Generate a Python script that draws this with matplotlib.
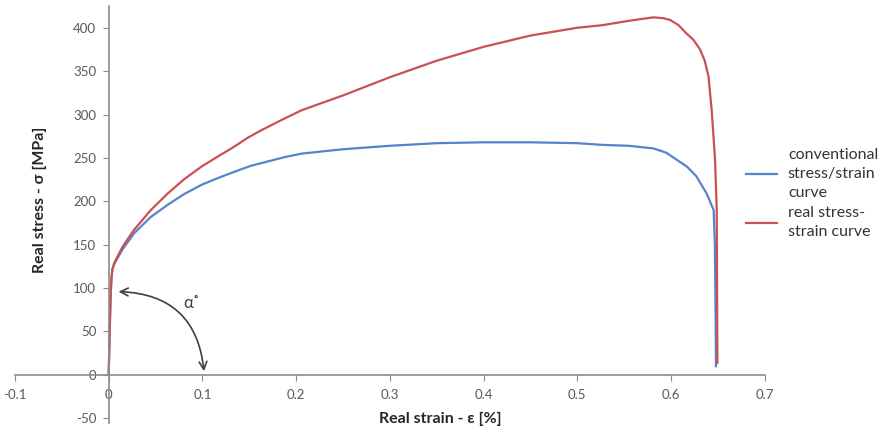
#!/usr/bin/env python3

import matplotlib
matplotlib.use("Agg")
import matplotlib.pyplot as plt

plt.rcParams['font.family'] = ['Lato', 'DejaVu Sans']
plt.rcParams['axes.unicode_minus'] = False

# strain [-], stress [MPa]
conv_strain = [0, 0.001, 0.002, 0.003, 0.004, 0.006, 0.015, 0.027, 0.045, 0.063, 0.08, 0.099,
               0.117, 0.134, 0.152, 0.17, 0.188, 0.206, 0.25, 0.3, 0.35, 0.4, 0.45, 0.5, 0.527,
               0.555, 0.581, 0.595, 0.606, 0.617, 0.627, 0.638, 0.6455, 0.6468, 0.6475, 0.648]
conv_stress = [0, 45, 90, 112, 122, 128, 145, 163, 182, 196, 208, 219,
               227, 234, 241, 246, 251, 255, 260, 264, 267, 268, 268, 267, 265,
               264, 261, 256, 248, 240, 229, 209, 190, 150, 80, 10]

real_strain = [0, 0.001, 0.002, 0.003, 0.004, 0.006, 0.015, 0.027, 0.045, 0.063, 0.08, 0.099,
               0.117, 0.134, 0.148, 0.163, 0.185, 0.206, 0.25, 0.3, 0.35, 0.4, 0.45, 0.5, 0.527,
               0.555, 0.581, 0.592, 0.599, 0.608, 0.616, 0.624, 0.631, 0.636, 0.64, 0.6434,
               0.647, 0.6488, 0.6495]
real_stress = [0, 45, 90, 112, 122, 129, 148, 167, 190, 209, 225, 240,
               252, 263, 273, 282, 294, 305, 322, 343, 362, 378, 391, 400, 403,
               408, 412, 411, 409, 403, 394, 386, 375, 362, 344, 305,
               248, 190, 14]

fig = plt.figure(figsize=(8.8, 4.33), dpi=100)
ax = fig.add_axes([0.017, 0.024, 0.852, 0.962])

ax.plot(conv_strain, conv_stress, color="#5584CA", lw=1.6,
        label="conventional\nstress/strain\ncurve")
ax.plot(real_strain, real_stress, color="#CC5052", lw=1.6,
        label="real stress-\nstrain curve")

ax.set_xlim(-0.1, 0.7)
ax.set_ylim(-55, 425)
ax.set_xticks([-0.1, 0, 0.1, 0.2, 0.3, 0.4, 0.5, 0.6, 0.7])
ax.set_xticklabels(["-0.1", "0", "0.1", "0.2", "0.3", "0.4", "0.5", "0.6", "0.7"])
ax.set_yticks(range(-50, 401, 50))

grey = "#8c8c8c"
for side in ["top", "right"]:
    ax.spines[side].set_visible(False)
ax.spines["left"].set_position(("data", 0))
ax.spines["bottom"].set_position(("data", 0))
for side in ["left", "bottom"]:
    ax.spines[side].set_color(grey)
    ax.spines[side].set_linewidth(1.2)
ax.tick_params(colors=grey, labelcolor="#595959", labelsize=9.5, length=4)
ax.tick_params(axis="x", pad=6)
ax.tick_params(axis="y", pad=5)

ax.set_xlabel("Real strain - ε [%]", fontsize=11.5, fontweight="bold", color="#262626")
ax.xaxis.set_label_coords(0.567, 0.026)
ax.set_ylabel("Real stress - σ [MPa]", fontsize=11.5, fontweight="bold", color="#262626")
ax.yaxis.set_label_coords(0.043, 0.535)

# angle marker
ax.annotate("", xy=(0.0075, 96), xytext=(0.102, 1),
            arrowprops=dict(arrowstyle="<->", color="#404040", lw=1.2,
                            connectionstyle="arc3,rad=0.45", mutation_scale=14))
ax.text(0.088, 83, "α˚", fontsize=12, color="#404040", ha="center", va="center")

leg = ax.legend(loc="center left", bbox_to_anchor=(0.967, 0.55), frameon=False,
                borderaxespad=0, fontsize=11.5, handlelength=1.9, handletextpad=0.7,
                labelspacing=0.4, labelcolor="#333333")
for t in leg.get_texts():
    t.set_linespacing(1.45)

plt.savefig("out.png", dpi=100)
